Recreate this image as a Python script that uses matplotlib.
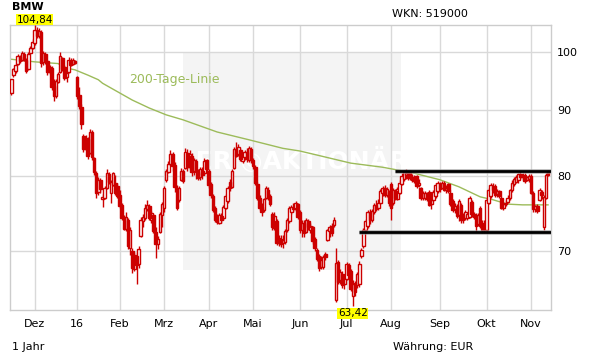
import matplotlib
matplotlib.use("Agg")
import matplotlib.pyplot as plt
from matplotlib.patches import Rectangle
from matplotlib.ticker import NullLocator, NullFormatter
import numpy as np

# BMW daily candles, trading-day index 0 = 16.11.2015 ... 253 = 11.11.2016
open_ = [92.9, 95.9, 96.6, 97.9, 99.1, 98.5, 99.6, 98.6, 97.0, 99.7,
         100.6, 101.5, 103.9, 102.9, 103.6, 98.1, 99.6, 98.3, 96.4, 97.2,
         94.0, 92.4, 94.8, 96.4, 98.8, 97.3, 95.6, 96.5, 98.4, 97.8,
         98.3, 95.6, 92.5, 90.6, 86.0, 84.0, 85.5, 83.4, 86.6, 82.6,
         80.5, 77.8, 79.4, 76.8, 77.0, 78.4, 80.3, 77.6, 78.8, 79.0,
         78.6, 77.3, 76.0, 74.3, 72.8, 74.0, 70.4, 70.0, 67.8, 69.3,
         68.3, 71.9, 73.8, 74.2, 75.4, 75.8, 74.0, 74.6, 72.4, 70.9,
         72.4, 74.6, 75.6, 79.4, 80.6, 81.8, 83.2, 81.6, 78.4, 76.7,
         79.5, 80.7, 81.2, 83.4, 81.3, 83.0, 80.7, 82.2, 80.5, 79.9,
         80.8, 80.4, 82.3, 80.8, 78.9, 77.2, 75.6, 74.0, 73.6, 74.5,
         74.2, 75.6, 76.5, 79.2, 78.5, 81.2, 84.0, 83.2, 83.9, 82.2,
         82.8, 83.6, 82.3, 84.0, 82.4, 81.3, 78.9, 76.9, 75.7, 75.3,
         77.0, 78.1, 77.2, 74.8, 72.9, 73.8, 71.2, 71.5, 71.0, 71.1,
         72.6, 73.8, 75.0, 75.6, 75.5, 76.1, 75.0, 72.7, 73.6, 72.4,
         73.8, 72.6, 73.0, 71.5, 70.1, 69.3, 68.0, 68.0, 69.6, 71.4,
         72.5, 73.2, 73.3, 64.1, 68.6, 66.4, 67.2, 65.9, 66.6, 68.2,
         67.5, 64.6, 66.1, 65.8, 65.9, 69.3, 70.6, 72.6, 73.2, 75.0,
         74.0, 75.0, 76.0, 75.6, 76.3, 77.6, 78.4, 77.4, 77.8, 78.9,
         76.2, 77.9, 76.8, 77.7, 78.9, 79.6, 80.2, 80.6, 80.6, 79.9,
         79.3, 80.0, 78.8, 78.3, 77.0, 76.9, 77.6, 77.8, 76.1, 76.7,
         77.2, 77.9, 78.9, 78.4, 79.0, 78.0, 78.9, 77.7, 76.5, 75.4,
         75.8, 74.6, 76.0, 74.6, 74.2, 74.2, 74.4, 76.4, 74.7, 74.6,
         73.4, 75.6, 73.5, 72.8, 72.6, 76.3, 77.2, 78.6, 78.6, 77.5,
         77.9, 77.0, 75.6, 76.1, 76.4, 76.9, 78.0, 78.9, 79.2, 79.5,
         80.3, 79.9, 80.2, 79.5, 79.6, 80.1, 77.6, 75.4, 75.8, 76.7,
         77.8, 73.1, 77.0, 80.7]
high = [95.3, 97.2, 97.9, 99.6, 99.4, 100.1, 99.9, 98.8, 99.9, 101.0,
        102.3, 104.84, 104.5, 104.3, 103.9, 100.2, 100.0, 98.6, 97.7, 97.5,
        95.3, 95.2, 96.5, 99.9, 99.0, 97.6, 96.7, 99.0, 98.8, 98.8,
        98.6, 95.8, 93.8, 91.0, 86.3, 86.2, 85.8, 87.0, 86.9, 82.8,
        80.7, 79.9, 79.8, 77.5, 78.6, 81.0, 80.6, 79.5, 80.6, 80.2,
        79.0, 78.0, 76.3, 74.6, 75.0, 74.2, 73.1, 70.3, 69.9, 69.8,
        70.6, 74.3, 74.8, 76.1, 76.7, 76.1, 75.2, 74.8, 73.0, 71.9,
        75.1, 76.4, 78.6, 81.1, 82.2, 83.9, 83.5, 82.0, 78.8, 78.6,
        81.2, 81.0, 84.1, 84.0, 83.8, 83.4, 82.7, 82.5, 81.0, 81.4,
        81.3, 82.7, 82.5, 81.0, 79.2, 77.5, 75.9, 74.8, 74.9, 74.9,
        76.0, 77.5, 78.6, 79.6, 81.0, 84.3, 85.1, 84.7, 84.2, 83.3,
        83.9, 84.1, 84.4, 84.3, 82.7, 81.6, 79.2, 77.3, 76.2, 77.0,
        78.6, 78.5, 77.5, 75.0, 75.0, 74.1, 72.0, 72.0, 72.0, 72.8,
        74.2, 75.9, 76.0, 76.2, 76.5, 76.3, 75.3, 74.0, 74.0, 74.2,
        74.1, 73.6, 73.2, 71.8, 70.3, 69.6, 69.3, 69.5, 69.9, 72.8,
        73.3, 73.6, 74.3, 70.3, 68.9, 67.8, 67.5, 67.1, 68.6, 68.5,
        67.8, 66.4, 66.3, 67.4, 68.7, 70.4, 72.9, 74.1, 75.3, 75.4,
        75.5, 76.3, 76.6, 76.8, 78.2, 78.6, 78.7, 78.5, 78.0, 79.2,
        78.3, 78.2, 78.5, 79.4, 80.4, 80.9, 81.0, 80.9, 80.9, 80.3,
        80.2, 80.2, 79.6, 78.5, 77.9, 77.9, 77.8, 78.0, 77.1, 78.1,
        79.0, 79.3, 79.2, 79.3, 79.3, 78.7, 79.1, 78.0, 76.8, 76.2,
        76.1, 76.8, 76.3, 74.9, 75.3, 75.0, 77.2, 76.7, 75.0, 74.9,
        74.9, 75.9, 74.0, 74.0, 77.0, 78.3, 79.0, 79.0, 78.9, 78.2,
        78.1, 77.2, 76.4, 76.6, 77.3, 78.2, 79.4, 79.9, 80.2, 80.5,
        80.7, 80.4, 80.4, 80.1, 80.3, 80.3, 77.9, 76.0, 76.1, 78.3,
        78.1, 77.3, 80.4, 80.9]
low = [92.5, 95.6, 96.3, 97.7, 98.0, 98.3, 98.4, 96.3, 96.8, 99.5,
       100.4, 101.2, 102.5, 102.5, 97.3, 97.6, 97.8, 95.9, 96.0, 93.4,
       91.6, 92.1, 94.5, 96.2, 96.6, 95.0, 94.8, 96.3, 97.4, 97.6,
       97.8, 91.9, 90.3, 87.0, 83.6, 83.8, 82.5, 83.2, 82.4, 80.2,
       76.9, 77.4, 77.7, 75.7, 76.8, 78.2, 78.9, 76.3, 78.6, 77.4,
       77.0, 75.6, 73.9, 72.6, 72.5, 70.2, 69.5, 67.3, 67.5, 66.0,
       67.9, 71.7, 73.0, 74.0, 75.2, 74.0, 73.6, 72.2, 69.1, 70.2,
       72.2, 73.0, 75.0, 79.2, 80.4, 81.6, 80.8, 77.8, 75.3, 76.4,
       79.3, 79.0, 81.0, 80.8, 81.0, 80.0, 80.2, 79.6, 79.4, 79.5,
       79.6, 80.2, 80.8, 78.4, 77.0, 75.0, 73.7, 73.4, 73.4, 73.6,
       74.0, 75.4, 76.3, 77.9, 78.3, 81.0, 82.8, 82.9, 82.2, 81.9,
       82.4, 82.0, 82.0, 81.9, 81.1, 78.8, 76.6, 75.3, 74.5, 75.1,
       76.8, 76.7, 75.8, 72.6, 72.6, 70.7, 70.6, 70.5, 70.4, 70.9,
       72.4, 73.6, 74.8, 75.1, 75.2, 74.1, 72.3, 71.8, 71.8, 72.2,
       72.6, 72.3, 70.9, 70.0, 68.7, 67.5, 67.8, 67.8, 68.9, 71.2,
       71.8, 71.9, 73.1, 63.9, 65.9, 65.9, 65.5, 65.4, 66.4, 66.7,
       65.1, 63.42, 64.6, 65.5, 65.6, 69.1, 70.3, 72.3, 72.9, 73.5,
       73.7, 74.7, 75.2, 75.3, 76.1, 77.2, 77.1, 77.1, 75.9, 74.0,
       76.0, 76.7, 76.6, 77.5, 78.7, 79.3, 79.6, 79.4, 79.5, 79.2,
       79.0, 78.3, 78.5, 76.6, 76.7, 76.6, 76.5, 75.8, 75.5, 76.5,
       77.0, 77.7, 77.8, 78.2, 77.9, 77.7, 77.6, 75.9, 75.0, 74.9,
       74.2, 73.8, 73.6, 73.6, 73.9, 73.9, 74.2, 74.4, 74.1, 72.4,
       73.2, 72.9, 72.3, 72.3, 72.3, 76.1, 77.0, 77.6, 77.1, 77.1,
       77.0, 75.4, 75.3, 75.8, 76.2, 76.7, 77.8, 78.6, 79.0, 79.0,
       79.6, 79.4, 79.0, 79.3, 79.2, 77.5, 75.0, 75.1, 74.9, 76.5,
       76.8, 72.7, 76.8, 80.0]
close = [95.2, 96.9, 97.6, 99.2, 98.3, 99.7, 98.6, 96.6, 99.6, 100.6,
         101.8, 104.0, 102.8, 103.8, 98.0, 99.8, 98.3, 96.4, 97.3, 93.9,
         92.3, 94.9, 96.1, 99.3, 97.0, 95.4, 96.3, 98.6, 97.7, 98.5,
         98.0, 92.4, 90.7, 87.8, 84.0, 85.7, 83.0, 86.6, 82.8, 80.6,
         77.6, 79.5, 78.2, 77.1, 78.3, 80.4, 79.2, 79.2, 80.4, 77.6,
         77.2, 75.9, 74.2, 72.8, 74.3, 70.6, 72.6, 67.9, 69.5, 68.2,
         70.2, 73.9, 74.3, 75.6, 76.0, 74.2, 74.9, 72.5, 70.8, 71.5,
         74.8, 76.1, 78.3, 80.8, 81.8, 83.3, 81.5, 78.5, 75.6, 78.3,
         80.8, 79.3, 83.5, 81.3, 83.3, 80.6, 82.4, 80.6, 79.8, 81.1,
         80.2, 82.2, 81.0, 78.7, 77.3, 75.3, 74.0, 73.7, 74.6, 74.0,
         75.7, 77.2, 78.3, 78.4, 80.7, 84.0, 83.0, 84.3, 82.5, 83.0,
         83.6, 82.5, 84.1, 82.4, 81.5, 79.0, 76.9, 75.6, 75.0, 76.8,
         78.3, 77.0, 76.1, 73.0, 74.5, 71.0, 71.6, 70.9, 71.4, 72.5,
         73.9, 75.6, 75.7, 75.4, 76.3, 74.4, 72.6, 73.6, 72.2, 73.9,
         73.1, 73.2, 71.2, 70.3, 69.0, 67.9, 68.8, 69.2, 69.2, 72.6,
         73.0, 72.2, 74.0, 68.5, 66.2, 67.4, 65.8, 66.8, 68.4, 67.0,
         65.4, 66.0, 65.0, 67.1, 68.4, 70.1, 72.6, 73.8, 75.0, 74.0,
         75.2, 76.0, 75.5, 76.2, 77.9, 78.4, 77.4, 78.2, 76.2, 75.6,
         78.0, 77.0, 78.2, 79.1, 80.1, 80.6, 80.5, 79.7, 79.8, 79.4,
         79.9, 78.6, 79.1, 76.9, 77.6, 77.7, 76.8, 76.0, 76.6, 77.8,
         78.7, 79.0, 78.2, 79.0, 78.1, 78.4, 77.9, 76.1, 75.3, 75.9,
         74.5, 76.5, 73.9, 73.9, 75.0, 74.7, 76.9, 74.7, 74.3, 73.2,
         74.6, 73.2, 72.6, 73.6, 76.6, 78.0, 78.7, 78.0, 77.4, 77.9,
         77.2, 75.6, 76.1, 76.3, 77.0, 78.0, 79.1, 79.6, 79.9, 80.3,
         79.9, 80.1, 79.3, 79.9, 80.0, 77.7, 75.4, 75.8, 75.2, 78.0,
         77.3, 77.1, 80.2, 80.2]

# 200-Tage-Linie, read at a few days
sma_day = [0, 11, 22, 26, 30, 36, 41, 43, 57, 65, 73, 81, 97, 112, 128,
           136, 144, 160, 175, 182, 189, 202, 211, 221, 227, 234, 241, 253]
sma_val = [98.65, 98.2, 97.9, 97.1, 96.8, 95.9, 95.1, 94.5, 91.7, 90.4,
           89.3, 88.5, 86.6, 85.4, 84.1, 83.7, 83.1, 81.9, 81.3, 80.9,
           80.5, 79.5, 78.5, 77.1, 76.7, 76.1, 76.0, 76.0]

# month starts (trading-day index) and labels
month_day = [11, 31, 51, 72, 93, 114, 136, 158, 179, 202, 224, 245]
month_lbl = ['Dez', '16', 'Feb', 'Mrz', 'Apr', 'Mai', 'Jun', 'Jul',
             'Aug', 'Sep', 'Okt', 'Nov']

# trend channel lines (value, first day)
resist_val, resist_from = 80.75, 181
support_val, support_from = 72.35, 164

RED = '#cc0000'
GREEN = '#9cbb5a'
W, H = 611, 364


def fpos(x, y):
    # figure pixel -> figure fraction
    return x / W, 1 - y / H


fig = plt.figure(figsize=(W / 100, H / 100), dpi=100)
ax = fig.add_axes([10.3 / W, (H - 310) / H, 540.7 / W, 285 / H])

o = np.array(open_)
hi = np.array(high)
lo = np.array(low)
c = np.array(close)
x = np.arange(len(c))
up = c >= o

# watermark box
ax.add_patch(Rectangle((0.319, 0.14), 0.404, 0.763, transform=ax.transAxes,
                       facecolor='#f4f4f4', edgecolor='none', zorder=0.2))
ax.text(0.52, 0.523, 'DER \u25ceAKTION\u00c4R', transform=ax.transAxes,
        fontsize=18, fontweight='bold', color='white', ha='center',
        va='center', zorder=0.3)

# 200 day line
ax.plot(sma_day, sma_val, color=GREEN, lw=1, zorder=2)

# candles
ax.vlines(x, lo, hi, color=RED, lw=1.0, zorder=3)
ax.bar(x[up], c[up] - o[up], bottom=o[up], width=1.2, facecolor='white',
       edgecolor=RED, lw=1.0, zorder=4)
ax.bar(x[~up], o[~up] - c[~up], bottom=c[~up], width=1.2, facecolor=RED,
       edgecolor=RED, lw=1.0, zorder=4)

# channel lines
xr = 254.4
for val, start in [(resist_val, resist_from), (support_val, support_from)]:
    ax.plot([start, xr], [val, val], color='#999999', lw=3.6, alpha=0.6,
            zorder=5, solid_capstyle='butt')
    ax.plot([start, xr], [val, val], color='black', lw=2, zorder=6,
            solid_capstyle='butt')

# high / low labels
imax = int(np.argmax(hi))
imin = int(np.argmin(lo))
fmt = lambda v: f'{v:.2f}'.replace('.', ',')
ax.annotate(fmt(hi[imax]), xy=(imax, hi[imax]), xytext=(0, 0.3),
            textcoords='offset points', ha='center', va='bottom', fontsize=7.5,
            bbox=dict(boxstyle='square,pad=0.05', fc='#ffff00', ec='none'),
            annotation_clip=False, zorder=10)
ax.annotate(fmt(lo[imin]), xy=(imin, lo[imin]), xytext=(0, -1.8),
            textcoords='offset points', ha='center', va='top', fontsize=7.5,
            bbox=dict(boxstyle='square,pad=0.05', fc='#ffff00', ec='none'),
            annotation_clip=False, zorder=10)

# axes
ax.set_yscale('log')
ax.set_ylim(62.95, 104.9)
ax.set_xlim(-0.5, xr)
ax.yaxis.set_minor_locator(NullLocator())
ax.yaxis.set_minor_formatter(NullFormatter())
ax.set_yticks([70, 80, 90, 100])
ax.set_yticklabels(['70', '80', '90', '100'])
ax.yaxis.tick_right()
ax.set_xticks(month_day)
ax.set_xticklabels(month_lbl)
ax.tick_params(axis='both', length=0, labelsize=8, colors='black')
ax.tick_params(axis='x', pad=6.5)
ax.tick_params(axis='y', pad=4.5)
ax.set_axisbelow(True)
ax.grid(True, color='#d9d9d9', lw=1)
for s in ax.spines.values():
    s.set_color('#cccccc')
    s.set_linewidth(1)

# texts around the chart
fig.text(*fpos(12, 7.5), 'BMW', fontsize=8, fontweight='bold', va='center',
         ha='left')
fig.text(*fpos(392, 14), 'WKN: 519000', fontsize=8, va='center', ha='left')
fig.text(*fpos(12, 347), '1 Jahr', fontsize=8, va='center', ha='left')
fig.text(*fpos(393, 347), 'W\u00e4hrung: EUR', fontsize=8, va='center',
         ha='left')
fig.text(*fpos(129, 80), '200-Tage-Linie', fontsize=9, color=GREEN,
         va='center', ha='left')

fig.savefig('out.png', dpi=100)
